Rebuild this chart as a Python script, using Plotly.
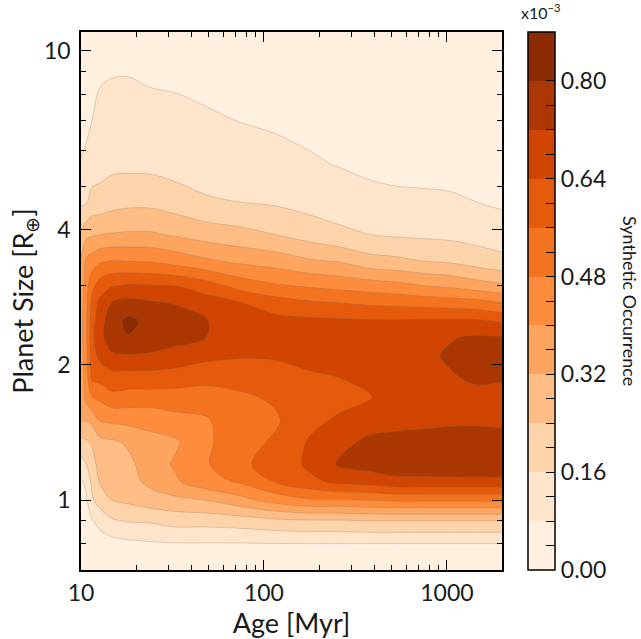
import numpy as np
import plotly.graph_objects as go

# ---------------- data (values in units of 1e-3) ----------------
ages = [10, 10.7, 11.5, 12.7, 14.8, 18, 24, 33, 48, 74, 115, 180, 260, 380, 520, 760, 1040, 1420, 2000]
sizes = [0.7, 0.8, 0.9, 1.0, 1.1, 1.2, 1.35, 1.5, 1.7, 1.9, 2.1, 2.3, 2.5, 2.75, 3.0, 3.4, 3.9, 4.6, 5.6, 7.0, 9.0, 11.0]

# synthetic occurrence per age column, listed from the smallest to the largest planet size
occ_10 = [0.02, 0.03, 0.04, 0.05, 0.07, 0.12, 0.22, 0.32, 0.34, 0.35, 0.36, 0.37, 0.37, 0.36, 0.35, 0.33, 0.26, 0.145, 0.085, 0.05, 0.03, 0.01]
occ_10_7 = [0.02, 0.04, 0.05, 0.07, 0.10, 0.16, 0.23, 0.32, 0.43, 0.45, 0.46, 0.47, 0.47, 0.46, 0.45, 0.42, 0.30, 0.155, 0.10, 0.06, 0.04, 0.01]
occ_11_5 = [0.03, 0.05, 0.075, 0.15, 0.18, 0.21, 0.25, 0.34, 0.48, 0.59, 0.61, 0.62, 0.61, 0.59, 0.54, 0.44, 0.31, 0.19, 0.115, 0.08, 0.05, 0.02]
occ_12_7 = [0.04, 0.05, 0.10, 0.20, 0.245, 0.27, 0.30, 0.40, 0.50, 0.60, 0.66, 0.70, 0.69, 0.66, 0.60, 0.47, 0.32, 0.19, 0.13, 0.10, 0.07, 0.03]
occ_14_8 = [0.04, 0.05, 0.15, 0.24, 0.27, 0.29, 0.31, 0.41, 0.54, 0.62, 0.71, 0.76, 0.765, 0.725, 0.635, 0.485, 0.325, 0.21, 0.14, 0.11, 0.075, 0.03]
occ_18 = [0.045, 0.06, 0.165, 0.255, 0.29, 0.30, 0.33, 0.42, 0.53, 0.62, 0.715, 0.795, 0.82, 0.745, 0.65, 0.48, 0.33, 0.22, 0.14, 0.12, 0.075, 0.035]
occ_24 = [0.045, 0.07, 0.17, 0.285, 0.34, 0.36, 0.38, 0.42, 0.53, 0.62, 0.71, 0.77, 0.78, 0.73, 0.645, 0.475, 0.33, 0.22, 0.138, 0.112, 0.064, 0.035]
occ_33 = [0.045, 0.075, 0.19, 0.30, 0.39, 0.41, 0.39, 0.45, 0.53, 0.61, 0.695, 0.745, 0.755, 0.715, 0.64, 0.45, 0.31, 0.20, 0.125, 0.105, 0.06, 0.035]
occ_48 = [0.045, 0.075, 0.19, 0.32, 0.45, 0.47, 0.465, 0.47, 0.52, 0.60, 0.66, 0.72, 0.725, 0.68, 0.60, 0.415, 0.285, 0.17, 0.12, 0.09, 0.055, 0.03]
occ_74 = [0.04, 0.075, 0.20, 0.37, 0.49, 0.55, 0.53, 0.53, 0.55, 0.59, 0.65, 0.69, 0.685, 0.645, 0.53, 0.385, 0.265, 0.16, 0.12, 0.078, 0.045, 0.025]
occ_115 = [0.04, 0.077, 0.22, 0.43, 0.565, 0.58, 0.57, 0.55, 0.57, 0.61, 0.65, 0.675, 0.665, 0.60, 0.49, 0.365, 0.24, 0.15, 0.11, 0.067, 0.04, 0.02]
occ_180 = [0.04, 0.078, 0.23, 0.47, 0.62, 0.66, 0.65, 0.62, 0.60, 0.63, 0.68, 0.69, 0.66, 0.57, 0.47, 0.33, 0.205, 0.13, 0.09, 0.055, 0.03, 0.015]
occ_260 = [0.04, 0.078, 0.23, 0.47, 0.66, 0.73, 0.70, 0.655, 0.61, 0.645, 0.69, 0.69, 0.655, 0.56, 0.455, 0.315, 0.175, 0.125, 0.075, 0.045, 0.025, 0.012]
occ_380 = [0.04, 0.078, 0.24, 0.48, 0.675, 0.75, 0.735, 0.69, 0.635, 0.67, 0.70, 0.69, 0.65, 0.545, 0.44, 0.27, 0.16, 0.105, 0.062, 0.04, 0.02, 0.01]
occ_520 = [0.04, 0.078, 0.24, 0.49, 0.70, 0.76, 0.74, 0.70, 0.67, 0.69, 0.70, 0.69, 0.65, 0.54, 0.425, 0.26, 0.15, 0.098, 0.056, 0.038, 0.02, 0.01]
occ_760 = [0.04, 0.078, 0.24, 0.49, 0.70, 0.765, 0.745, 0.705, 0.69, 0.71, 0.705, 0.70, 0.655, 0.53, 0.40, 0.24, 0.145, 0.095, 0.053, 0.035, 0.018, 0.01]
occ_1040 = [0.04, 0.078, 0.24, 0.49, 0.70, 0.77, 0.75, 0.71, 0.70, 0.715, 0.73, 0.715, 0.655, 0.52, 0.385, 0.23, 0.14, 0.092, 0.05, 0.032, 0.016, 0.008]
occ_1420 = [0.04, 0.078, 0.24, 0.49, 0.70, 0.775, 0.755, 0.71, 0.70, 0.735, 0.75, 0.73, 0.655, 0.51, 0.36, 0.205, 0.13, 0.081, 0.046, 0.028, 0.013, 0.006]
occ_2000 = [0.04, 0.078, 0.24, 0.49, 0.70, 0.77, 0.75, 0.705, 0.70, 0.73, 0.745, 0.725, 0.635, 0.48, 0.335, 0.18, 0.12, 0.068, 0.043, 0.024, 0.01, 0.005]

levels_start, levels_end, levels_step = 0.0, 0.88, 0.08
cbar_ticks = [round(0.04 * i, 2) for i in range(22)]
cbar_labels = ["0.00", "0.16", "0.32", "0.48", "0.64", "0.80"]
x_major = [10, 100, 1000]
x_minor = [20, 30, 40, 50, 60, 70, 80, 90, 200, 300, 400, 500, 600, 700, 800, 900]
y_major = [1, 2, 4, 10]
y_minor = [0.8, 0.9, 3, 5, 6, 7, 8, 9]

columns = [occ_10, occ_10_7, occ_11_5, occ_12_7, occ_14_8, occ_18, occ_24, occ_33, occ_48,
           occ_74, occ_115, occ_180, occ_260, occ_380, occ_520, occ_760, occ_1040, occ_1420, occ_2000]
z = np.array(columns).T  # rows = sizes, cols = ages

# ---------------- colours: matplotlib "Oranges" sampled at band midpoints ----------------
oranges = ["#fff5eb", "#fee6ce", "#fdd0a2", "#fdae6b", "#fd8d3c", "#f16913", "#d94801", "#a63603", "#7f2704"]


def hex2rgb(h):
    return np.array([int(h[i:i + 2], 16) for i in (1, 3, 5)], dtype=float)


def cmap(t):
    p = t * (len(oranges) - 1)
    i = min(int(np.floor(p)), len(oranges) - 2)
    f = p - i
    c = hex2rgb(oranges[i]) * (1 - f) + hex2rgb(oranges[i + 1]) * f
    return "rgb(%d,%d,%d)" % tuple(np.round(c))


nb = int(round((levels_end - levels_start) / levels_step))  # 11 bands
band_colors = [cmap((i + 0.5) / nb) for i in range(nb)]

# contour fill colorscale: plotly samples each band at its midpoint -> positions i/(nb-1)
contour_scale = [[i / (nb - 1), band_colors[i]] for i in range(nb)]
# stepped colorscale for the colour bar
step_scale = []
for i in range(nb):
    step_scale.append([i / nb, band_colors[i]])
    step_scale.append([(i + 1) / nb, band_colors[i]])

FONT = "Lato"
TXT = "#1a1a1a"

fig = go.Figure()
fig.add_trace(go.Contour(
    x=ages, y=sizes, z=z,
    colorscale=contour_scale,
    autocontour=False,
    contours=dict(start=levels_start + levels_step, end=levels_end - levels_step,
                  size=levels_step, coloring="fill", showlines=True),
    line=dict(color="rgba(120,105,95,0.26)", width=1, smoothing=1.0),
    showscale=False,
    hoverinfo="skip",
))

# colour bar (drawn by the library from a stepped colorscale)
tick_text = []
for v in cbar_ticks:
    lab = "%.2f" % v
    tick_text.append(lab if lab in cbar_labels else " ")
fig.add_trace(go.Scatter(
    x=[None], y=[None], mode="markers", hoverinfo="skip", showlegend=False,
    marker=dict(color=[0.0], cmin=levels_start, cmax=levels_end, colorscale=step_scale,
                showscale=True,
                colorbar=dict(
                    x=(528 - 81) / 421, xanchor="left", xpad=0,
                    y=0.5, yanchor="middle", ypad=0, len=1.0, lenmode="fraction",
                    thickness=27, thicknessmode="pixels",
                    outlinewidth=1.5, outlinecolor="black",
                    tickmode="array", tickvals=cbar_ticks[:-1], ticktext=tick_text[:-1],
                    ticks="inside", ticklen=9, tickwidth=1.3, tickcolor="black",
                    tickfont=dict(family=FONT, size=23, color=TXT),
                    ticklabelposition="outside",
                )),
))

axis_common = dict(
    type="log", showgrid=False, zeroline=False,
    showline=True, linecolor="black", linewidth=1.6, mirror="ticks",
    ticks="inside", ticklen=10, tickwidth=1.3, tickcolor="black",
    tickfont=dict(family=FONT, size=23, color=TXT),
)

fig.update_layout(
    width=641, height=639,
    margin=dict(l=81, r=139, t=32, b=69, autoexpand=False),
    paper_bgcolor="white", plot_bgcolor="white",
    font=dict(family=FONT, color=TXT),
    showlegend=False,
    xaxis=dict(
        **axis_common,
        range=[np.log10(10), np.log10(2000)],
        tickmode="array", tickvals=x_major, ticktext=[str(v) for v in x_major],
        minor=dict(tickmode="array", tickvals=x_minor, ticks="inside", ticklen=5,
                   tickwidth=1.1, tickcolor="black", showgrid=False),
        title=dict(text="Age [Myr]", font=dict(family=FONT, size=27, color=TXT), standoff=0),
        ticklabelstandoff=2,
    ),
    yaxis=dict(
        **axis_common,
        range=[np.log10(0.7), np.log10(11)],
        tickmode="array", tickvals=y_major, ticktext=[str(v) for v in y_major],
        minor=dict(tickmode="array", tickvals=y_minor, ticks="inside", ticklen=5,
                   tickwidth=1.1, tickcolor="black", showgrid=False),
        title=dict(text="Planet Size [R<sub>⊕</sub>]", font=dict(family=FONT, size=27, color=TXT), standoff=2),
        ticklabelstandoff=4,
    ),
    annotations=[
        dict(text="Synthetic Occurrence", textangle=90, x=(630 - 81) / 421, y=0.5,
             xref="paper", yref="paper", xanchor="center", yanchor="middle",
             showarrow=False, font=dict(family=FONT, size=18, color=TXT)),
        dict(text="x10<sup>−3</sup>", x=(541 - 81) / 421, y=1.0 + 8 / 538,
             xref="paper", yref="paper", xanchor="center", yanchor="bottom",
             showarrow=False, font=dict(family=FONT, size=16, color=TXT)),
    ],
)

fig.write_html("out.html", config={"displayModeBar": False},
               post_script="document.body.style.margin='0';document.body.style.padding='0';")
